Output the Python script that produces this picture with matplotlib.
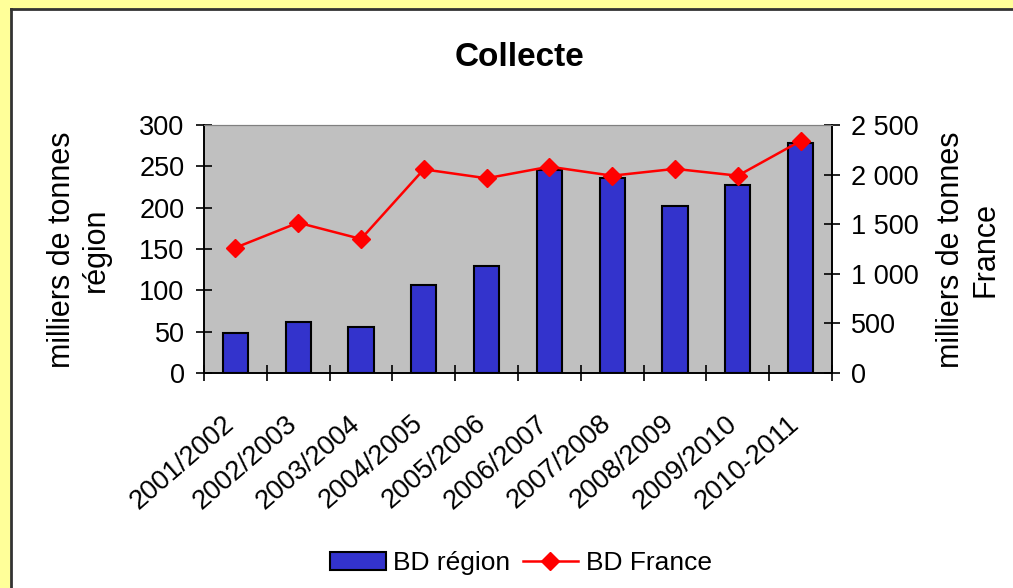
import matplotlib
matplotlib.use("Agg")
import matplotlib.pyplot as plt
from matplotlib.lines import Line2D
from matplotlib.patches import Rectangle
from matplotlib.ticker import FuncFormatter
from matplotlib.transforms import ScaledTranslation

# data
saisons = ["2001/2002", "2002/2003", "2003/2004", "2004/2005", "2005/2006",
           "2006/2007", "2007/2008", "2008/2009", "2009/2010", "2010-2011"]
bd_region = [48, 62, 56, 107, 129, 246, 236, 202, 228, 278]
bd_france = [1263, 1515, 1351, 2053, 1963, 2080, 1989, 2058, 1989, 2339]

plt.rcParams['font.family'] = ['Liberation Sans', 'DejaVu Sans']

fig = plt.figure(figsize=(10.13, 5.88), dpi=100)
fig.patch.set_facecolor("#FFFF99")

# white chart area with dark top/left border
W, H = 1013, 588
fig.add_artist(Rectangle((11 / W, 0), 1, 1 - 9 / H, transform=fig.transFigure,
                         facecolor="white", edgecolor="none", zorder=0))
fig.add_artist(Line2D([11 / W, 11 / W], [0, 1 - 9 / H], transform=fig.transFigure,
                      color="#333333", lw=2))
fig.add_artist(Line2D([11 / W, 1], [1 - 9 / H, 1 - 9 / H], transform=fig.transFigure,
                      color="#333333", lw=2))

ax = fig.add_axes([204 / W, 1 - 373 / H, (832 - 204) / W, (373 - 125) / H])
ax.set_facecolor("#C0C0C0")
x = list(range(len(saisons)))
ax.bar(x, bd_region, width=0.4, color="#3333CC", edgecolor="black", linewidth=1.5,
       zorder=2, label="BD région")
ax.set_xlim(-0.5, len(saisons) - 0.5)
ax.set_ylim(0, 300)
ax.set_yticks(range(0, 301, 50))

ax2 = ax.twinx()
ax2.plot(x, bd_france, color="red", lw=1.8, marker="D", markersize=9,
         label="BD France", zorder=3)
ax2.set_ylim(0, 2500)
ax2.set_yticks(range(0, 2501, 500))
ax2.yaxis.set_major_formatter(FuncFormatter(lambda v, p: f"{int(v):,}".replace(",", " ")))

ax.set_xticks(x)
ax.set_xticklabels(saisons, rotation=41, ha="right", rotation_mode="anchor")
ax.set_xticks([i + 0.5 for i in range(-1, len(saisons))], minor=True)
ax.tick_params(axis="x", which="major", length=0, pad=14, labelsize=19.5)
ax.tick_params(axis="x", which="minor", length=12, direction="inout", width=1.2)
ax.tick_params(axis="y", length=12, direction="inout", width=1.2, labelsize=19.5, pad=8)
ax2.tick_params(axis="y", length=12, direction="inout", width=1.2, labelsize=19.5, pad=8)

# shift rotated labels down/left like in the original
shift = ScaledTranslation(-0.13, -0.18, fig.dpi_scale_trans)
for lab in ax.get_xticklabels():
    lab.set_transform(lab.get_transform() + shift)

for a in (ax, ax2):
    for s in ("left", "bottom", "right"):
        a.spines[s].set_color("black")
        a.spines[s].set_linewidth(1.2)
    a.spines["top"].set_color("#808080")

fig.text(519 / W, 1 - 57 / H, "Collecte", ha="center", va="center",
         fontsize=24, fontweight="bold")
fig.text(79 / W, 1 - 250 / H, "milliers de tonnes\nrégion", rotation=90,
         ha="center", va="center", multialignment="center", fontsize=22)
fig.text(968 / W, 1 - 250 / H, "milliers de tonnes\nFrance", rotation=90,
         ha="center", va="center", multialignment="center", fontsize=22)

h1, l1 = ax.get_legend_handles_labels()
h2, l2 = ax2.get_legend_handles_labels()
fig.legend(h1 + h2, l1 + l2, loc="center", bbox_to_anchor=(521 / W, 1 - 563 / H),
           ncol=2, frameon=False, fontsize=19, handlelength=2.1,
           columnspacing=0.45, handletextpad=0.3)

fig.savefig("out.png", dpi=100, facecolor=fig.get_facecolor())
